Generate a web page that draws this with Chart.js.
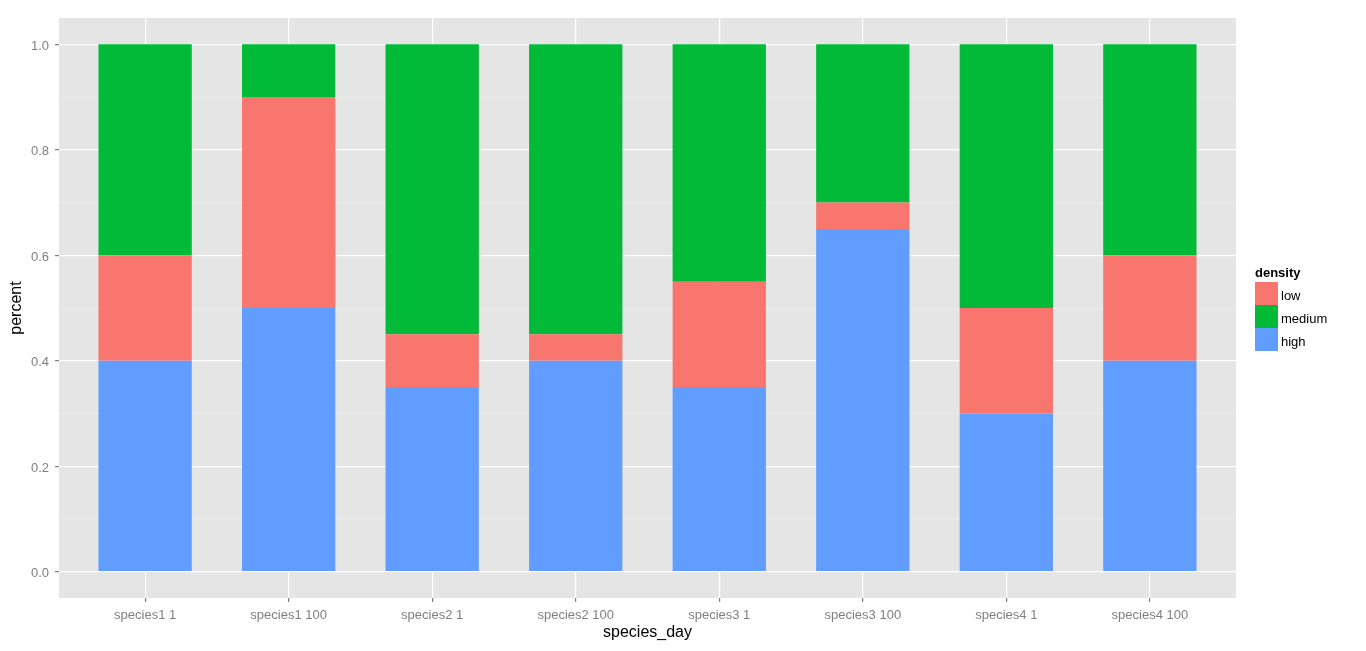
<!DOCTYPE html>
<html>
<head>
<meta charset="utf-8">
<script src="https://cdn.jsdelivr.net/npm/chart.js@4"></script>
<style>
  body { margin: 0; background: #fff; font-family: "Liberation Sans", Arial, sans-serif; }
  #wrap { position: relative; width: 1366px; height: 651px; }
  #legend { position: absolute; left: 1255px; top: 264px; font-size: 13px; color: #000; }
  #legend .ttl { font-weight: bold; height: 18px; line-height: 18px; }
  #legend .row { display: flex; align-items: center; height: 23px; }
  #legend .key { width: 23px; height: 23px; margin-right: 3px; }
  #legend .row span { padding-top: 3px; }
</style>
</head>
<body>
<div id="wrap">
  <canvas id="chart" width="1366" height="651"></canvas>
  <div id="legend"></div>
</div>
<script>
const categories = ['species1 1', 'species1 100', 'species2 1', 'species2 100',
                    'species3 1', 'species3 100', 'species4 1', 'species4 100'];
// stacked bottom to top: high, low, medium
const high   = [0.40, 0.50, 0.35, 0.40, 0.35, 0.65, 0.30, 0.40];
const low    = [0.20, 0.40, 0.10, 0.05, 0.20, 0.05, 0.20, 0.20];
const medium = [0.40, 0.10, 0.55, 0.55, 0.45, 0.30, 0.50, 0.40];
const yTicks = [0, 0.1, 0.2, 0.3, 0.4, 0.5, 0.6, 0.7, 0.8, 0.9, 1.0];

const colours = { low: '#F8766D', medium: '#00BA38', high: '#619CFF' };
const legendOrder = ['low', 'medium', 'high'];

function points(vals) {
    return vals.map(function (v, i) { return { x: i + 1, y: v }; });
}
function isMajor(v) {
    return Math.abs(Math.round(v * 10) % 2) === 0;
}

const panelBg = {
    id: 'panelBg',
    beforeDraw(chart) {
        const a = chart.chartArea;
        const ctx = chart.ctx;
        ctx.save();
        ctx.fillStyle = '#E5E5E5';
        ctx.fillRect(a.left, a.top, a.right - a.left, a.bottom - a.top);
        ctx.restore();
    }
};

const tickFont = { family: '"Liberation Sans", Arial, sans-serif', size: 13 };
const titleFont = { family: '"Liberation Sans", Arial, sans-serif', size: 16 };

let ctx = document.getElementById('chart');
let chart = new Chart(ctx, {
    type: 'bar',
    data: {
        datasets: [
            { label: 'high', data: points(high), backgroundColor: colours.high },
            { label: 'low', data: points(low), backgroundColor: colours.low },
            { label: 'medium', data: points(medium), backgroundColor: colours.medium }
        ]
    },
    options: {
        responsive: false,
        animation: false,
        layout: { padding: { left: 0, right: 130, top: 18, bottom: 0 } },
        datasets: { bar: { categoryPercentage: 1, barPercentage: 0.65, borderWidth: 0 } },
        plugins: { legend: { display: false }, tooltip: { enabled: false } },
        scales: {
            x: {
                type: 'linear',
                stacked: true,
                offset: false,
                min: 0.4,
                max: 8.6,
                afterBuildTicks: function (scale) {
                    scale.ticks = categories.map(function (c, i) { return { value: i + 1 }; });
                },
                afterFit: function (scale) { scale.height = 53; },
                ticks: {
                    autoSkip: false,
                    maxRotation: 0,
                    padding: 6,
                    color: '#7F7F7F',
                    font: tickFont,
                    callback: function (v) { return categories[v - 1]; }
                },
                grid: { offset: false, color: '#FFFFFF', lineWidth: 1.2, tickColor: '#7F7F7F', tickLength: 4 },
                border: { display: false },
                title: { display: true, text: 'species_day', color: '#000', font: titleFont, padding: { top: 0, bottom: 9 } }
            },
            y: {
                stacked: true,
                min: -0.05,
                max: 1.05,
                afterBuildTicks: function (scale) {
                    scale.ticks = yTicks.map(function (v) { return { value: v }; });
                },
                afterFit: function (scale) { scale.width = 59; },
                ticks: {
                    padding: 6,
                    labelOffset: 2,
                    color: '#7F7F7F',
                    font: tickFont,
                    callback: function (v) { return isMajor(v) ? v.toFixed(1) : ''; }
                },
                grid: {
                    color: function (c) { return isMajor(c.tick.value) ? '#FFFFFF' : '#F2F2F2'; },
                    lineWidth: function (c) { return isMajor(c.tick.value) ? 1.2 : 0.6; },
                    tickColor: function (c) { return isMajor(c.tick.value) ? '#7F7F7F' : 'rgba(0,0,0,0)'; },
                    tickLength: 4
                },
                border: { display: false },
                title: { display: true, text: 'percent', color: '#000', font: titleFont, padding: { top: 7, bottom: 0 } }
            }
        }
    },
    plugins: [panelBg]
});

// legend (ggplot style)
const legend = document.getElementById('legend');
let html = '<div class="ttl">density</div>';
legendOrder.forEach(function (name) {
    html += '<div class="row"><div class="key" style="background:' + colours[name] + '"></div><span>' + name + '</span></div>';
});
legend.innerHTML = html;
</script>
</body>
</html>
